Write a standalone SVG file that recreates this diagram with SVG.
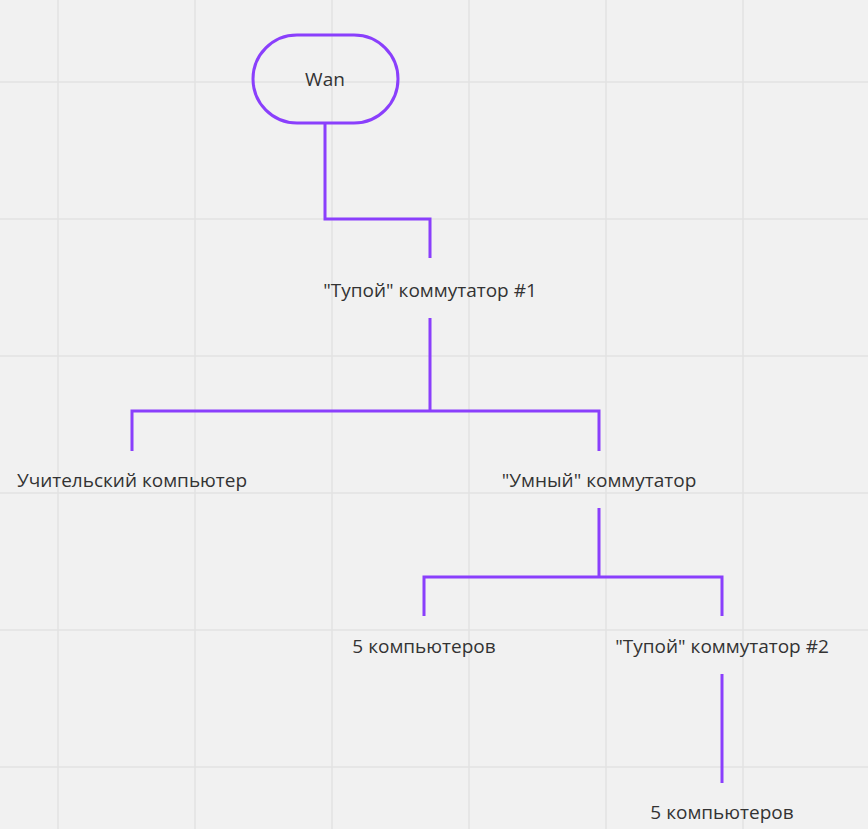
<svg xmlns="http://www.w3.org/2000/svg" width="868" height="829" viewBox="0 0 868 829">
<style>
.g{stroke:#e2e2e2;stroke-width:1.5}
.c{fill:none;stroke:#8a3ffc;stroke-width:3}
.t{font-family:"Open Sans",sans-serif;font-size:19px;fill:#333;text-anchor:middle}
</style>
<rect width="868" height="829" fill="#f1f1f1"/>
<g id="grid">
<line class="g" x1="58" y1="0" x2="58" y2="829"/><line class="g" x1="195" y1="0" x2="195" y2="829"/><line class="g" x1="332" y1="0" x2="332" y2="829"/><line class="g" x1="469" y1="0" x2="469" y2="829"/><line class="g" x1="606" y1="0" x2="606" y2="829"/><line class="g" x1="743" y1="0" x2="743" y2="829"/>
<line class="g" x1="0" y1="82" x2="868" y2="82"/><line class="g" x1="0" y1="219" x2="868" y2="219"/><line class="g" x1="0" y1="356" x2="868" y2="356"/><line class="g" x1="0" y1="493" x2="868" y2="493"/><line class="g" x1="0" y1="630" x2="868" y2="630"/><line class="g" x1="0" y1="767" x2="868" y2="767"/>
</g>
<g id="connectors">
<path class="c" d="M325 123V219H430V258"/>
<path class="c" d="M430 318V411M132 451V411H599V451"/>
<path class="c" d="M599 508V577M424 616V577H722V616"/>
<path class="c" d="M722 674V783"/>
</g>
<g id="wan"><rect class="c" x="253" y="35" width="145" height="88" rx="44"/><text class="t" x="325" y="86">Wan</text></g>
<g id="sw1"><text class="t" x="430" y="297">"Тупой" коммутатор #1</text></g>
<g id="teacher"><text class="t" x="132" y="487">Учительский компьютер</text></g>
<g id="smart"><text class="t" x="599" y="487">"Умный" коммутатор</text></g>
<g id="pc5a"><text class="t" x="424" y="653">5 компьютеров</text></g>
<g id="sw2"><text class="t" x="722" y="653">"Тупой" коммутатор #2</text></g>
<g id="pc5b"><text class="t" x="722" y="819">5 компьютеров</text></g>
</svg>
